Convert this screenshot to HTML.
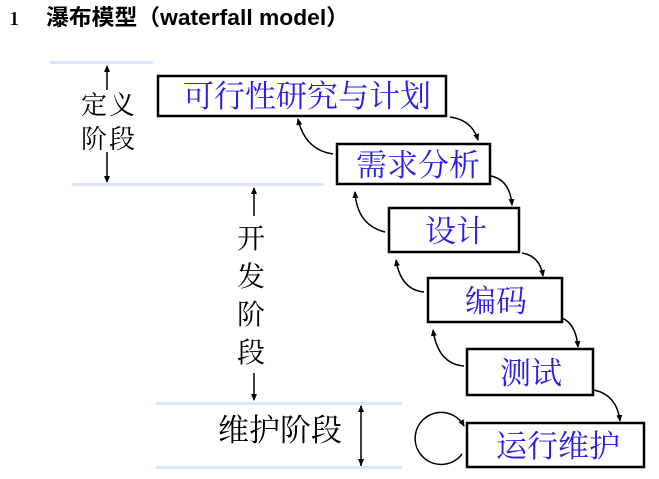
<!DOCTYPE html>
<html><head><meta charset="utf-8"><style>
html,body{margin:0;padding:0;background:#fff;width:659px;height:479px;overflow:hidden}
svg{display:block}
.t{font-family:"Liberation Sans","Noto Sans CJK SC",sans-serif}
.s{font-family:"Noto Serif CJK SC","Liberation Serif",serif}
.b{fill:#2a1fe8}
</style></head><body>
<svg width="659" height="479" viewBox="0 0 659 479" xmlns="http://www.w3.org/2000/svg">
<defs><marker id="a" markerWidth="8" markerHeight="8" refX="6" refY="4" orient="auto" markerUnits="userSpaceOnUse"><path d="M0,1 L7,4 L0,7 Z" fill="#000"/></marker></defs>
<text x="9" y="25" class="s" font-size="18" font-weight="bold">1</text>
<text x="46" y="25" class="t" font-size="22" font-weight="bold" textLength="303" lengthAdjust="spacingAndGlyphs">瀑布模型（waterfall model）</text>
<g fill="#dbe6f8">
<rect x="50" y="61" width="103" height="3"/>
<rect x="72" y="183" width="252" height="3"/>
<rect x="156" y="402" width="246" height="3"/>
<rect x="156" y="466" width="246" height="3"/>
</g>
<g stroke="#000" stroke-width="1.5" fill="none">
<line x1="107" y1="90" x2="107" y2="66" marker-end="url(#a)"/>
<line x1="107" y1="152" x2="107" y2="182" marker-end="url(#a)"/>
<line x1="254" y1="216" x2="254" y2="188" marker-end="url(#a)"/>
<line x1="254" y1="373" x2="254" y2="400" marker-end="url(#a)"/>
<line x1="361" y1="410" x2="361" y2="406" marker-end="url(#a)"/>
<line x1="361" y1="406" x2="361" y2="466"/>
<line x1="361" y1="460" x2="361" y2="465" marker-end="url(#a)"/>
</g>
<g class="s" font-size="26" fill="#000">
<text x="81" y="114" letter-spacing="2">定义</text><text x="81" y="148" letter-spacing="2">阶段</text>
<text x="237" y="248" font-size="28">开</text>
<text x="237" y="286" font-size="28">发</text>
<text x="237" y="324" font-size="28">阶</text>
<text x="237" y="362" font-size="28">段</text>
<text x="218" y="441" font-size="31">维护阶段</text>
</g>
<g fill="#fff" stroke="#000" stroke-width="2.5">
<rect x="158" y="76" width="288" height="40"/>
<rect x="337" y="144" width="153" height="40"/>
<rect x="389" y="208" width="130" height="44"/>
<rect x="428" y="278" width="134" height="44"/>
<rect x="467" y="349" width="126" height="46"/>
<rect x="467" y="423" width="177" height="44"/>
</g>
<g class="s b" font-size="31" text-anchor="middle">
<text x="307" y="107">可行性研究与计划</text>
<text x="418" y="176">需求分析</text>
<text x="456" y="242">设计</text>
<text x="496" y="312">编码</text>
<text x="531" y="384">测试</text>
<text x="558" y="457">运行维护</text>
</g>
<g stroke="#000" stroke-width="1.5" fill="none">
<path d="M450,117 Q472,120 478,140" marker-end="url(#a)"/>
<path d="M491,176 Q510,180 512,205" marker-end="url(#a)"/>
<path d="M522,253 Q540,256 543,276" marker-end="url(#a)"/>
<path d="M562,318 Q576,324 578,347" marker-end="url(#a)"/>
<path d="M594,390 Q617,395 620,421" marker-end="url(#a)"/>
<path d="M333,154 Q305,150 298,119" marker-end="url(#a)"/>
<path d="M385,232 Q357,225 355,192" marker-end="url(#a)"/>
<path d="M424,292 Q401,290 396,260" marker-end="url(#a)"/>
<path d="M464,366 Q438,364 433,330" marker-end="url(#a)"/>
<path d="M462,454 A26,26 0 1 1 464,426" marker-end="url(#a)"/>
</g>
</svg>
</body></html>
